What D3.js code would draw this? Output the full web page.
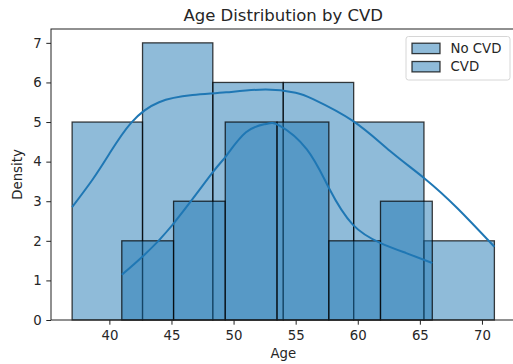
<!DOCTYPE html>
<html>
<head>
<meta charset="utf-8">
<script src="https://cdn.jsdelivr.net/npm/d3@7"></script>
<style>
  body { margin: 0; background: #fff; }
  text { font-family: "DejaVu Sans", sans-serif; fill: #262626; }
</style>
</head>
<body>
<svg id="chart" width="513" height="364"></svg>
<script>
// histogram bins (edges) and counts
const noCvdEdges = [37, 42.67, 48.33, 54, 59.67, 65.33, 71];
const noCvdCounts = [5, 7, 6, 6, 5, 2];
const cvdEdges = [41, 45.17, 49.33, 53.5, 57.67, 61.83, 66];
const cvdCounts = [2, 3, 5, 5, 2, 3];

// kde curves (age, value)
const noCvdKde = [
  [37, 2.85], [38.65, 3.55], [40, 4.2], [41.75, 4.98], [44, 5.5],
  [46.7, 5.68], [49.4, 5.75], [52.6, 5.82], [55, 5.74], [56.4, 5.58],
  [59.6, 5.03], [62.6, 4.27], [65.4, 3.57], [68, 2.83], [71, 1.85]
];
const cvdKde = [
  [41, 1.14], [42.7, 1.61], [45.1, 2.41], [48.3, 3.72], [49.4, 4.14], [51, 4.74],
  [52.6, 4.95], [53.7, 4.91], [55.9, 4.31], [57.7, 3.32], [59.6, 2.41],
  [61.8, 1.95], [63.9, 1.69], [66, 1.44]
];

const xTicks = [40, 45, 50, 55, 60, 65, 70];
const yTicks = [0, 1, 2, 3, 4, 5, 6, 7];
const legendLabels = ['No CVD', 'CVD'];

const width = 513, height = 364;
const margin = { top: 29, right: -2.5, bottom: 44, left: 51 };
const fill = 'rgba(31,119,180,0.5)';
const edge = 'rgba(0,0,0,0.75)';
const fs = 13.3;

const svg = d3.select('#chart');

const x = d3.scaleLinear()
  .domain([35.3, 72.7])
  .range([margin.left, width - margin.right]);
const y = d3.scaleLinear()
  .domain([0, 7.35])
  .range([height - margin.bottom, margin.top]);

const toBins = (edges, counts) =>
  counts.map((c, i) => ({ x0: edges[i], x1: edges[i + 1], c }));

const drawBars = (bins, cls) => {
  svg.append('g')
    .attr('class', cls)
    .selectAll('rect')
    .data(bins)
    .enter()
    .append('rect')
    .attr('x', d => x(d.x0))
    .attr('y', d => y(d.c))
    .attr('width', d => x(d.x1) - x(d.x0))
    .attr('height', d => y(0) - y(d.c))
    .attr('fill', fill)
    .attr('stroke', edge)
    .attr('stroke-width', 1.3);
};

drawBars(toBins(noCvdEdges, noCvdCounts), 'bars_nocvd');
drawBars(toBins(cvdEdges, cvdCounts), 'bars_cvd');

const line = d3.line()
  .x(d => x(d[0]))
  .y(d => y(d[1]))
  .curve(d3.curveNatural);

[noCvdKde, cvdKde].forEach(pts => {
  svg.append('path')
    .datum(pts)
    .attr('d', line)
    .attr('fill', 'none')
    .attr('stroke', '#1f77b4')
    .attr('stroke-width', 2);
});

// axes
const xAxis = svg.append('g')
  .attr('transform', `translate(0,${y(0)})`)
  .call(d3.axisBottom(x).tickValues(xTicks).tickSize(4.7).tickPadding(6));
const yAxis = svg.append('g')
  .attr('transform', `translate(${margin.left},0)`)
  .call(d3.axisLeft(y).tickValues(yTicks).tickSize(4.7).tickPadding(4.7));

[xAxis, yAxis].forEach(a => {
  a.select('.domain').remove();
  a.selectAll('line').attr('stroke', '#222').attr('stroke-width', 1);
  a.selectAll('text')
    .attr('font-family', '"DejaVu Sans", sans-serif')
    .attr('font-size', fs)
    .attr('fill', '#262626');
});

// spines
svg.append('rect')
  .attr('x', margin.left)
  .attr('y', margin.top)
  .attr('width', x.range()[1] - margin.left)
  .attr('height', y(0) - margin.top)
  .attr('fill', 'none')
  .attr('stroke', '#222')
  .attr('stroke-width', 1);

// labels
svg.append('text')
  .attr('x', (margin.left + x.range()[1]) / 2)
  .attr('y', 21)
  .attr('text-anchor', 'middle')
  .attr('font-size', 16.5)
  .text('Age Distribution by CVD');

svg.append('text')
  .attr('x', (margin.left + x.range()[1]) / 2)
  .attr('y', 358)
  .attr('text-anchor', 'middle')
  .attr('font-size', fs)
  .text('Age');

svg.append('text')
  .attr('transform', `translate(22,${(margin.top + y(0)) / 2}) rotate(-90)`)
  .attr('text-anchor', 'middle')
  .attr('font-size', fs)
  .text('Density');

// legend
const legend = svg.append('g').attr('class', 'legend');
legend.append('rect')
  .attr('x', 406)
  .attr('y', 36.5)
  .attr('width', 104)
  .attr('height', 43.5)
  .attr('rx', 2.5)
  .attr('fill', 'rgba(255,255,255,0.8)')
  .attr('stroke', '#d6d6d6');

legendLabels.forEach((lbl, i) => {
  const cy = 48.4 + i * 18.3;
  legend.append('rect')
    .attr('x', 412)
    .attr('y', cy - 5.2)
    .attr('width', 28)
    .attr('height', 10.4)
    .attr('fill', fill)
    .attr('stroke', edge)
    .attr('stroke-width', 1.3);
  legend.append('text')
    .attr('x', 450.5)
    .attr('y', cy + 4.5)
    .attr('font-size', fs)
    .text(lbl);
});
</script>
</body>
</html>
